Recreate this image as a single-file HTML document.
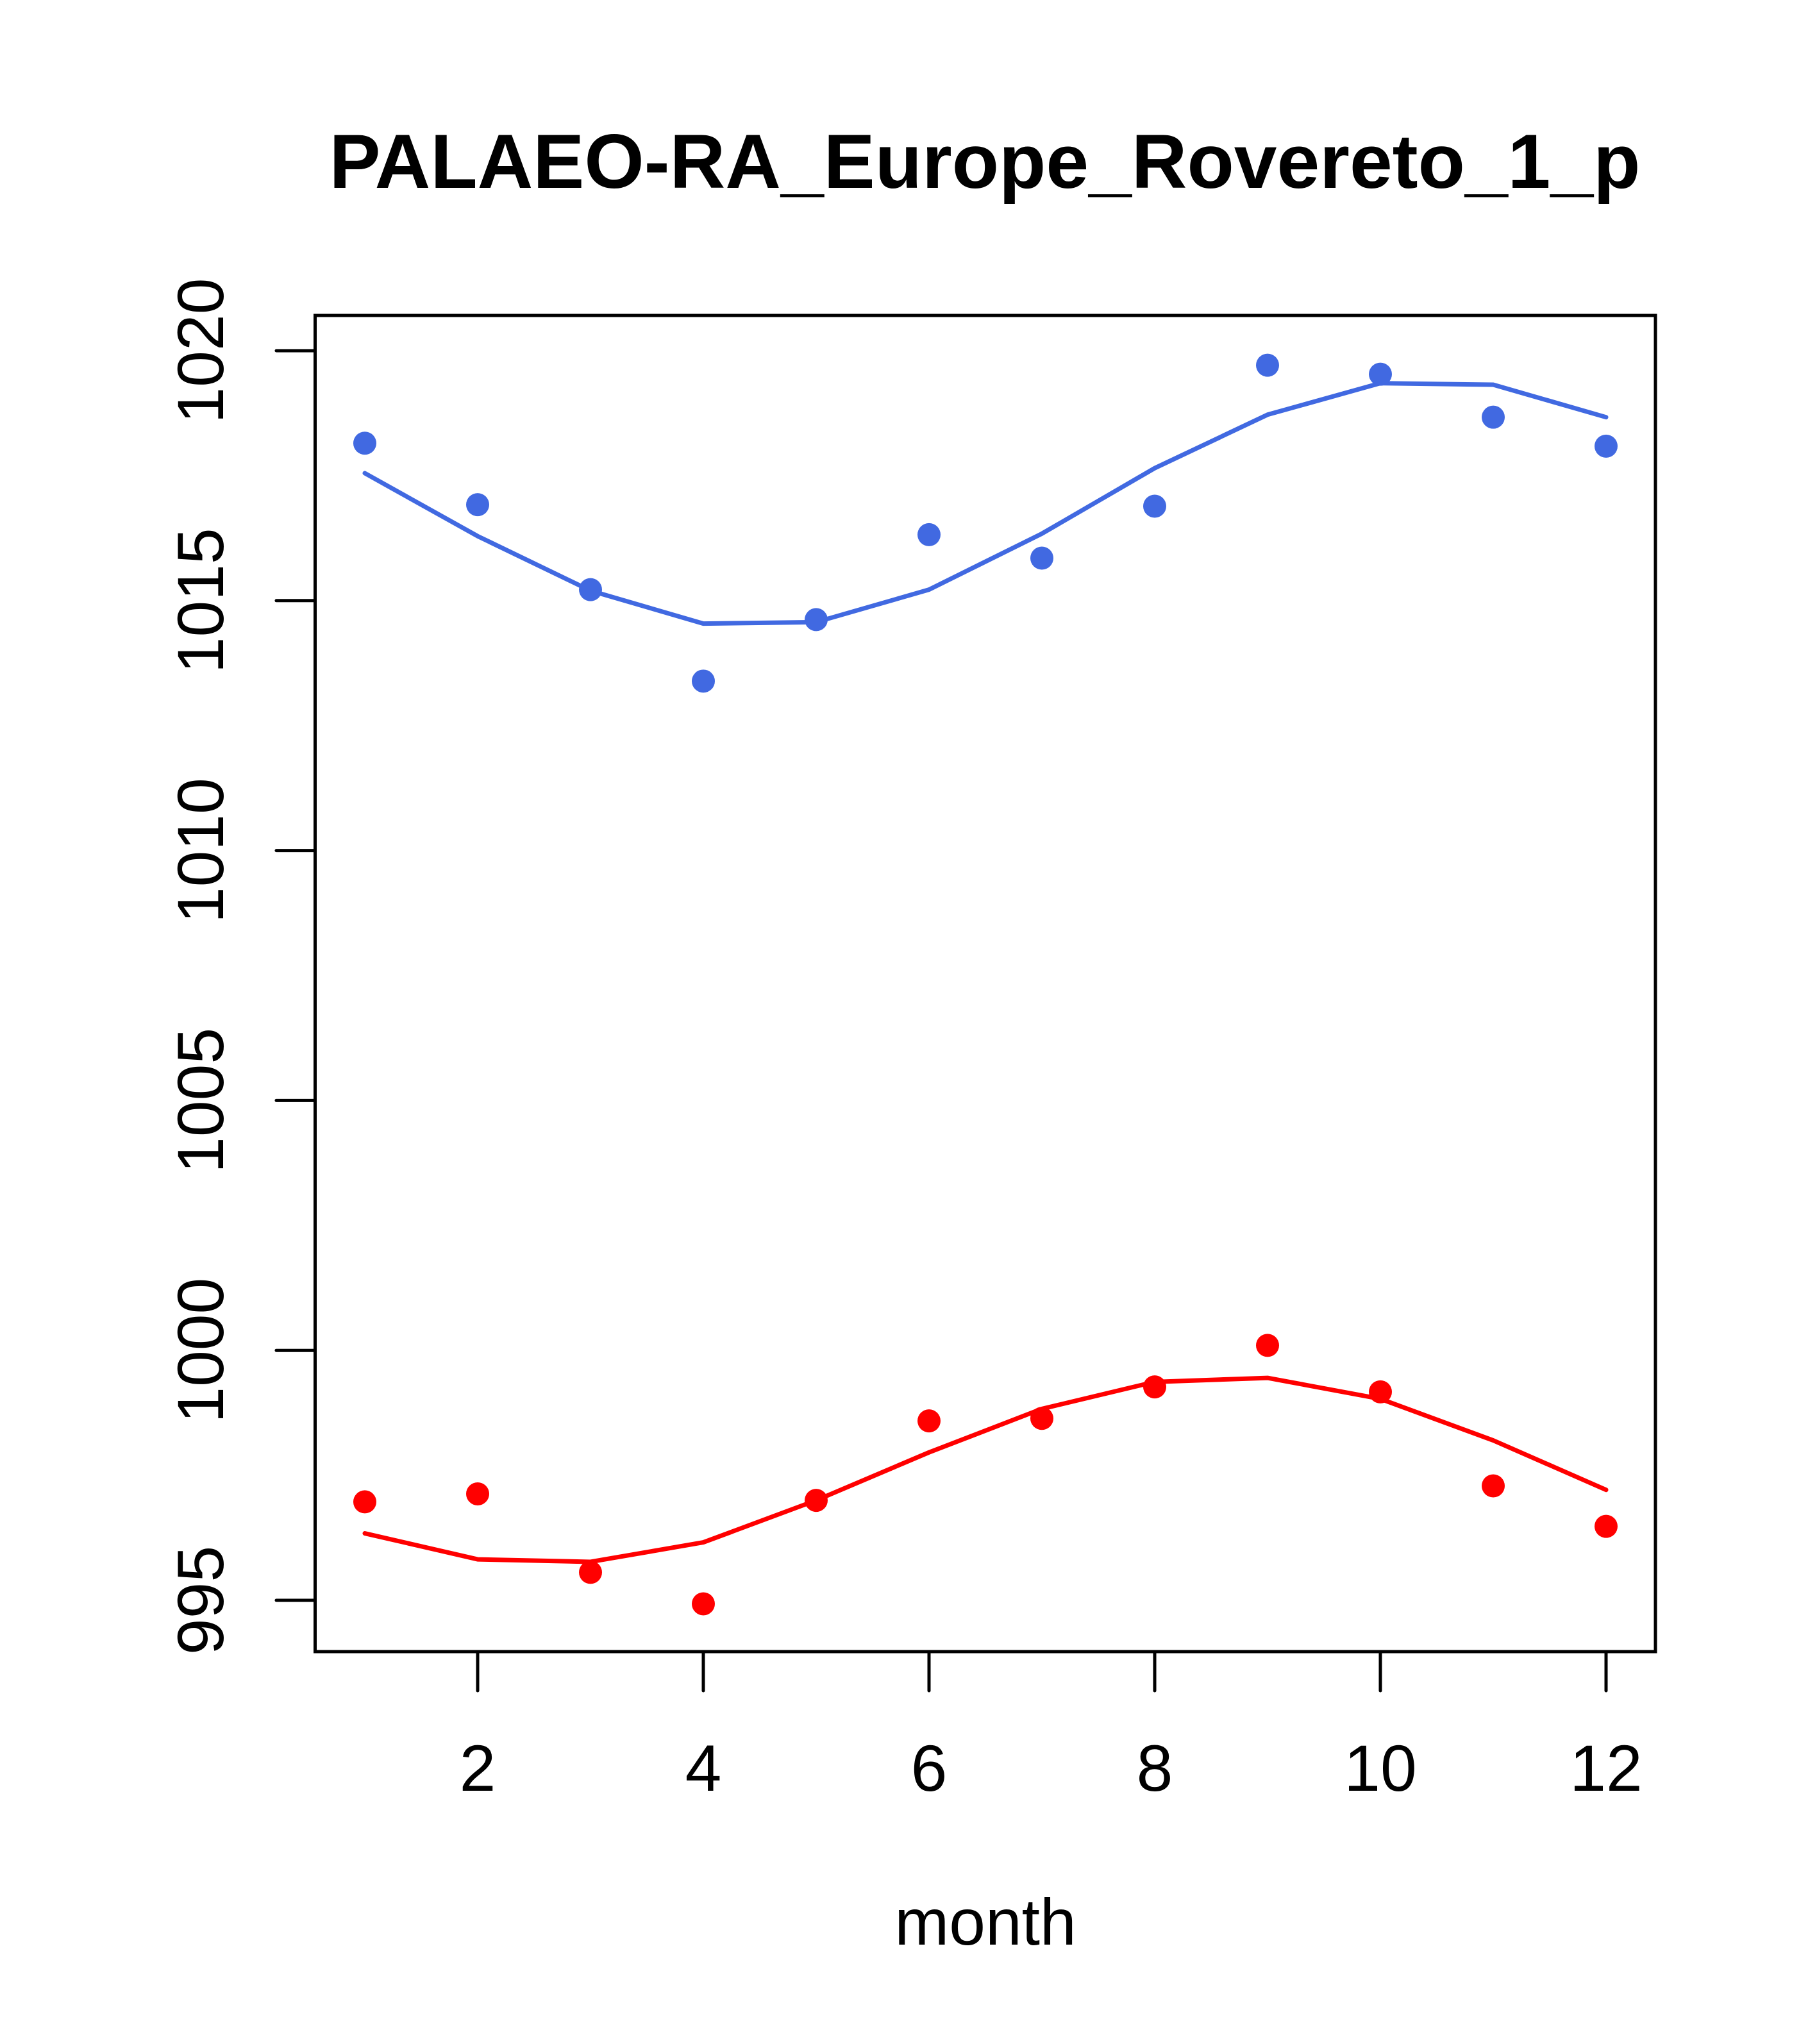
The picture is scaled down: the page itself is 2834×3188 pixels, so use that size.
<!DOCTYPE html>
<html><head><meta charset="utf-8"><style>html,body{margin:0;padding:0;background:#fff}svg{display:block}text{font-family:"Liberation Sans",sans-serif}</style></head>
<body>
<svg id="chart" width="2834" height="3188" viewBox="0 0 2834 3188" xmlns="http://www.w3.org/2000/svg">
<rect width="2834" height="3188" fill="#fff"/>
<text x="1536" y="293" font-size="120" font-weight="bold" text-anchor="middle">PALAEO-RA_Europe_Rovereto_1_p</text>
<text x="1537" y="3033" font-size="102" text-anchor="middle">month</text>
<g id="marks"></g>
<rect x="491.5" y="492" width="2090.5" height="2084" fill="none" stroke="#000" stroke-width="5"/>
<g id="axes"></g>
</svg>
<script>
const months=[1,2,3,4,5,6,7,8,9,10,11,12];
const bluePoints=[1018.15,1016.92,1015.22,1013.39,1014.62,1016.32,1015.85,1016.89,1019.71,1019.53,1018.67,1018.09];
const blueLine=[1017.55,1016.29,1015.2,1014.54,1014.57,1015.22,1016.34,1017.65,1018.72,1019.35,1019.32,1018.67];
const redPoints=[996.97,997.13,995.56,994.93,997.0,998.59,998.64,999.27,1000.1,999.17,997.29,996.48];
const redLine=[996.34,995.82,995.77,996.16,997.0,997.96,998.83,999.37,999.45,999.03,998.2,997.21];
const xTicks=[2,4,6,8,10,12];
const yTicks=[995,1000,1005,1010,1015,1020];
const NS="http://www.w3.org/2000/svg";
function xs(v){return 569+(v-1)*(2505-569)/11;}
function ys(v){return 547+(1020-v)*(2496-547)/25;}
function mk(tag,attrs,parent){const e=document.createElementNS(NS,tag);for(const k in attrs)e.setAttribute(k,attrs[k]);parent.appendChild(e);return e;}
const marks=document.getElementById('marks'),axes=document.getElementById('axes');
function series(pts,line,col,name){
  const pl=mk('polyline',{points:line.map((v,i)=>xs(months[i])+','+ys(v)).join(' '),fill:'none',stroke:col,'stroke-width':7,'stroke-linecap':'round','stroke-linejoin':'round'},marks);
  
  
  pts.forEach((v,i)=>{
    const c=mk('circle',{cx:xs(months[i]),cy:ys(v),r:18,fill:col},marks);
    
    
  });
}
series(bluePoints,blueLine,'#4169E1','blue');
series(redPoints,redLine,'#FF0000','red');
xTicks.forEach(t=>{
  const l=mk('line',{x1:xs(t),x2:xs(t),y1:2576,y2:2637,stroke:'#000','stroke-width':5,'stroke-linecap':'round'},axes);
  
  
  const tx=mk('text',{x:xs(t),y:2793,'font-size':102,'text-anchor':'middle'},axes);
  tx.textContent=t;
  
  
});
yTicks.forEach(t=>{
  const l=mk('line',{x1:431,x2:491.5,y1:ys(t),y2:ys(t),stroke:'#000','stroke-width':5,'stroke-linecap':'round'},axes);
  
  
  const tx=mk('text',{x:0,y:0,'font-size':102,'text-anchor':'middle',transform:'translate(348,'+ys(t)+') rotate(-90)'},axes);
  tx.textContent=t;
  
  
});
</script>
</body></html>
